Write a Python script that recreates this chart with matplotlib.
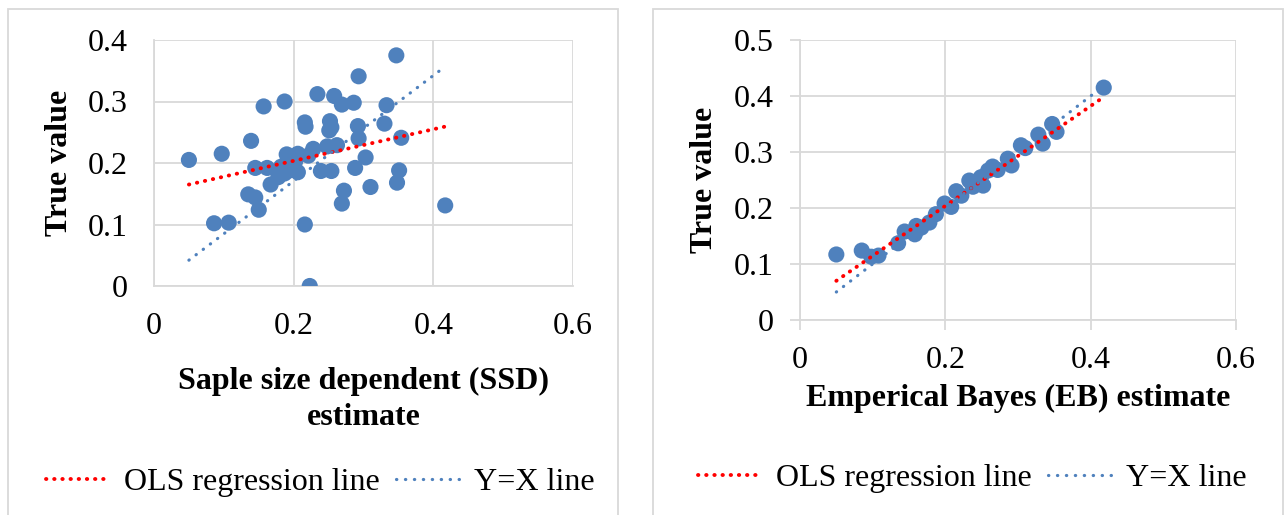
import numpy as np
import matplotlib.pyplot as plt
from matplotlib.lines import Line2D
from matplotlib.patches import Rectangle

plt.rcParams['font.family'] = ['Liberation Serif', 'DejaVu Serif']

# --- SSD estimate vs true value
ssd_x = [0.347, 0.293, 0.234, 0.258, 0.269, 0.286, 0.157, 0.187, 0.333, 0.216,
         0.217, 0.252, 0.251, 0.254, 0.292, 0.330, 0.139, 0.293, 0.354, 0.050,
         0.097, 0.228, 0.248, 0.262, 0.190, 0.206, 0.221, 0.303, 0.145, 0.162,
         0.182, 0.194, 0.206, 0.187, 0.239, 0.254, 0.288, 0.167, 0.178, 0.351,
         0.348, 0.310, 0.272, 0.269, 0.135, 0.145, 0.150, 0.086, 0.107, 0.216,
         0.417, 0.223, 0.199, 0.202]
ssd_true = [0.375, 0.341, 0.312, 0.309, 0.295, 0.298, 0.292, 0.300, 0.294, 0.266,
            0.259, 0.268, 0.253, 0.258, 0.260, 0.264, 0.236, 0.240, 0.241, 0.205,
            0.215, 0.223, 0.227, 0.229, 0.214, 0.215, 0.212, 0.209, 0.192, 0.192,
            0.194, 0.188, 0.185, 0.183, 0.187, 0.187, 0.192, 0.165, 0.177, 0.188,
            0.168, 0.161, 0.155, 0.134, 0.149, 0.144, 0.124, 0.102, 0.103, 0.100,
            0.131, 0.000, 0.195, 0.202]
ssd_ols_x = [0.05, 0.42]
ssd_ols_y = [0.165, 0.260]
ssd_yx_x = [0.05, 0.416]
ssd_yx_y = [0.042, 0.356]

# --- EB estimate vs true value
eb_x = [0.050, 0.085, 0.098, 0.108, 0.135, 0.144, 0.158, 0.160, 0.167, 0.178,
        0.187, 0.199, 0.208, 0.215, 0.222, 0.233, 0.238, 0.252, 0.249, 0.259,
        0.265, 0.272, 0.286, 0.291, 0.304, 0.310, 0.328, 0.334, 0.347, 0.353,
        0.418]
eb_true = [0.117, 0.124, 0.113, 0.115, 0.137, 0.158, 0.153, 0.168, 0.165, 0.174,
           0.189, 0.208, 0.202, 0.230, 0.222, 0.249, 0.238, 0.240, 0.255, 0.267,
           0.274, 0.268, 0.288, 0.276, 0.312, 0.307, 0.331, 0.315, 0.350, 0.336,
           0.415]
eb_ols_x = [0.05, 0.42]
eb_ols_y = [0.070, 0.400]
eb_yx_x = [0.05, 0.42]
eb_yx_y = [0.05, 0.42]

xticks = [0, 0.2, 0.4, 0.6]
ssd_yticks = [0, 0.1, 0.2, 0.3, 0.4]
eb_yticks = [0, 0.1, 0.2, 0.3, 0.4, 0.5]

blue = '#4F81BD'
red = '#FF0000'
grid = '#D9D9D9'
fs = 23

# dotted styles for the two reference lines
ols_style = dict(color=red, lw=2.8, linestyle=(0, (0.1, 2.0)), dash_capstyle='round')
yx_style = dict(color=blue, lw=2.3, linestyle=(0, (0.1, 2.7)), dash_capstyle='round')

W, H = 1288, 515
fig = plt.figure(figsize=(W / 100, H / 100), dpi=100)


def px_axes(x0, y0, x1, y1):
    return fig.add_axes([x0 / W, 1 - y1 / H, (x1 - x0) / W, (y1 - y0) / H])


def tick_fmt(v):
    return '0' if v == 0 else '{:g}'.format(v)


def setup(ax, yticks, ticklen, pad):
    ax.set_xlim(0, 0.6)
    ax.set_ylim(0, yticks[-1])
    ax.set_xticks(xticks)
    ax.set_yticks(yticks)
    ax.set_xticklabels([tick_fmt(v) for v in xticks])
    ax.set_yticklabels([tick_fmt(v) for v in yticks])
    ax.grid(True, color=grid, lw=1.3)
    ax.set_axisbelow(True)
    for s in ['top', 'right']:
        ax.spines[s].set_visible(False)
    for s in ['left', 'bottom']:
        ax.spines[s].set_color(grid)
        ax.spines[s].set_linewidth(1.3)
    ax.tick_params(labelsize=fs, length=ticklen, width=1.3, color=grid, pad=pad)


def draw(ax, x, y, ox, oy, yx, yy):
    ax.scatter(x, y, s=135, color=blue, edgecolors='none', zorder=3)
    ax.plot(ox, oy, zorder=4, **ols_style)
    ax.plot(yx, yy, zorder=4, **yx_style)


def legend(cx, cy):
    h = [Line2D([], [], **ols_style), Line2D([], [], **yx_style)]
    fig.legend(h, ['OLS regression line', 'Y=X line'], ncol=2, loc='center',
               bbox_to_anchor=(cx / W, 1 - cy / H), frameon=False, fontsize=fs,
               handlelength=2.0, handletextpad=0.45, columnspacing=0.5,
               borderpad=0, borderaxespad=0)


# panel frames
fig.patches.append(Rectangle((8 / W, -0.05), 610 / W, 1 - 9 / H + 0.05,
                             transform=fig.transFigure, fill=False, ec=grid, lw=1.3))
fig.patches.append(Rectangle((653 / W, -0.05), 630 / W, 1 - 9 / H + 0.05,
                             transform=fig.transFigure, fill=False, ec=grid, lw=1.3))

ax1 = px_axes(154, 40, 573, 286)
setup(ax1, ssd_yticks, 0, 19)
draw(ax1, ssd_x, ssd_true, ssd_ols_x, ssd_ols_y, ssd_yx_x, ssd_yx_y)
ax1.set_xlabel('Saple size dependent (SSD)\nestimate', fontsize=fs, fontweight='bold',
               linespacing=1.3)
ax1.xaxis.set_label_coords(0.5, -0.33)
ax1.set_ylabel('True value', fontsize=fs, fontweight='bold')
ax1.yaxis.set_label_coords(-0.191, 0.5)
legend(320, 482)

ax2 = px_axes(800, 40, 1236, 320)
setup(ax2, eb_yticks, 7, 12)
draw(ax2, eb_x, eb_true, eb_ols_x, eb_ols_y, eb_yx_x, eb_yx_y)
ax2.set_xlabel('Emperical Bayes (EB) estimate', fontsize=fs, fontweight='bold')
ax2.xaxis.set_label_coords(0.5, -0.23)
ax2.set_ylabel('True value', fontsize=fs, fontweight='bold')
ax2.yaxis.set_label_coords(-0.186, 0.5)
legend(972, 478)

plt.savefig('out.png', dpi=100)
